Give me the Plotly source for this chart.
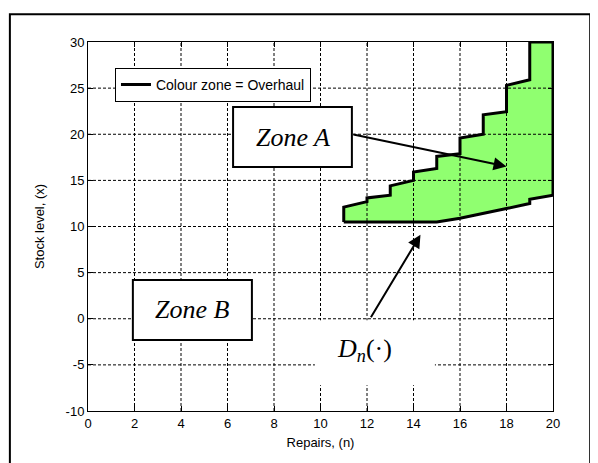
import plotly.graph_objects as go

# Overhaul zone boundary: repairs n vs stock level x
upper_n = [11, 11, 12, 12, 13, 13, 14, 14, 15, 15, 16, 16, 17, 17, 18, 18, 19, 19, 20]
upper_x = [10.5, 12.1, 12.7, 13.1, 13.4, 14.4, 15.0, 15.9, 16.3, 17.6, 17.9, 19.6, 20.0, 22.1, 22.45, 25.3, 25.9, 30, 30]
lower_n = [20, 19, 19, 18, 17, 16, 15, 11]
lower_x = [13.4, 12.95, 12.5, 11.95, 11.4, 10.9, 10.5, 10.5]

x_ticks = list(range(0, 21, 2))
y_ticks = list(range(-10, 31, 5))

zone_n = upper_n + lower_n
zone_x = upper_x + lower_x

BLACK = "#000000"
GREEN = "#90ff70"
FONT = "Arial, Liberation Sans, sans-serif"
SERIF = "Times New Roman, Liberation Serif, serif"

fig = go.Figure()

# filled zone
fig.add_trace(go.Scatter(
    x=zone_n, y=zone_x, mode="lines", fill="toself",
    fillcolor=GREEN, line=dict(width=0), showlegend=False, hoverinfo="skip"
))
# boundary
fig.add_trace(go.Scatter(
    x=zone_n, y=zone_x, mode="lines",
    line=dict(color=BLACK, width=3),
    name="Colour zone = Overhaul"
))

shapes = []
# dotted grid drawn above the fill (like MATLAB)
for t in x_ticks[1:-1]:
    shapes.append(dict(type="line", xref="x", yref="y", x0=t, x1=t, y0=y_ticks[0], y1=y_ticks[-1],
                       line=dict(color=BLACK, width=1, dash="3px,2px"), layer="above"))
for t in y_ticks[1:-1]:
    shapes.append(dict(type="line", xref="x", yref="y", x0=x_ticks[0], x1=x_ticks[-1], y0=t, y1=t,
                       line=dict(color=BLACK, width=1, dash="3px,2px"), layer="above"))

# text boxes
shapes.append(dict(type="rect", xref="x", yref="y", x0=6.24, x1=11.35, y0=16.45, y1=22.95,
                   fillcolor="white", line=dict(color=BLACK, width=2), layer="above"))
shapes.append(dict(type="rect", xref="x", yref="y", x0=1.93, x1=7.05, y0=-2.3, y1=4.2,
                   fillcolor="white", line=dict(color=BLACK, width=2), layer="above"))
shapes.append(dict(type="rect", xref="x", yref="y", x0=9.76, x1=14.92, y0=-7.2, y1=-0.15,
                   fillcolor="white", line=dict(width=0), layer="above"))
# outer frame
shapes.append(dict(type="rect", xref="paper", yref="paper", x0=-0.168, x1=1.08, y0=-0.2, y1=1.075,
                   line=dict(color=BLACK, width=2), fillcolor="rgba(0,0,0,0)", layer="above"))

annotations = [
    dict(x=8.8, y=19.7, xref="x", yref="y", text="<i>Zone A</i>", showarrow=False,
         font=dict(family=SERIF, size=26, color=BLACK)),
    dict(x=4.5, y=0.95, xref="x", yref="y", text="<i>Zone B</i>", showarrow=False,
         font=dict(family=SERIF, size=26, color=BLACK)),
    dict(x=11.9, y=-3.4, xref="x", yref="y", text="<i>D</i><sub><i>n</i></sub>(·)", showarrow=False,
         font=dict(family=SERIF, size=26, color=BLACK)),
    # arrows
    dict(x=18, y=16.5, xref="x", yref="y", ax=11.35, ay=20.0, axref="x", ayref="y",
         text="", showarrow=True, arrowhead=2, arrowsize=1.3, arrowwidth=2, arrowcolor=BLACK),
    dict(x=14.3, y=9.1, xref="x", yref="y", ax=12.13, ay=0.0, axref="x", ayref="y",
         text="", showarrow=True, arrowhead=2, arrowsize=1.3, arrowwidth=2, arrowcolor=BLACK),
]

axis_style = dict(
    showgrid=False, zeroline=False, showline=True, linecolor=BLACK, linewidth=1,
    mirror="ticks", ticks="inside", ticklen=5, tickcolor=BLACK,
    tickfont=dict(family=FONT, size=13, color=BLACK),
)

fig.update_layout(
    width=598, height=463,
    margin=dict(l=80, r=53, t=34, b=60),
    paper_bgcolor="white", plot_bgcolor="white",
    xaxis=dict(range=[0, 20], tickvals=x_ticks, ticktext=[str(t) for t in x_ticks],
               title=dict(text="Repairs, (n)", font=dict(family=FONT, size=13, color=BLACK), standoff=8),
               **axis_style),
    yaxis=dict(range=[-10, 30], tickvals=y_ticks, ticktext=[str(t) for t in y_ticks],
               title=dict(text="Stock level, (x)", font=dict(family=FONT, size=13, color=BLACK), standoff=18),
               **axis_style),
    legend=dict(x=0.058, y=0.93, xanchor="left", yanchor="top",
                bgcolor="white", bordercolor=BLACK, borderwidth=1,
                font=dict(family=FONT, size=14, color=BLACK)),
    shapes=shapes,
    annotations=annotations,
)

fig.write_html("out.html")
